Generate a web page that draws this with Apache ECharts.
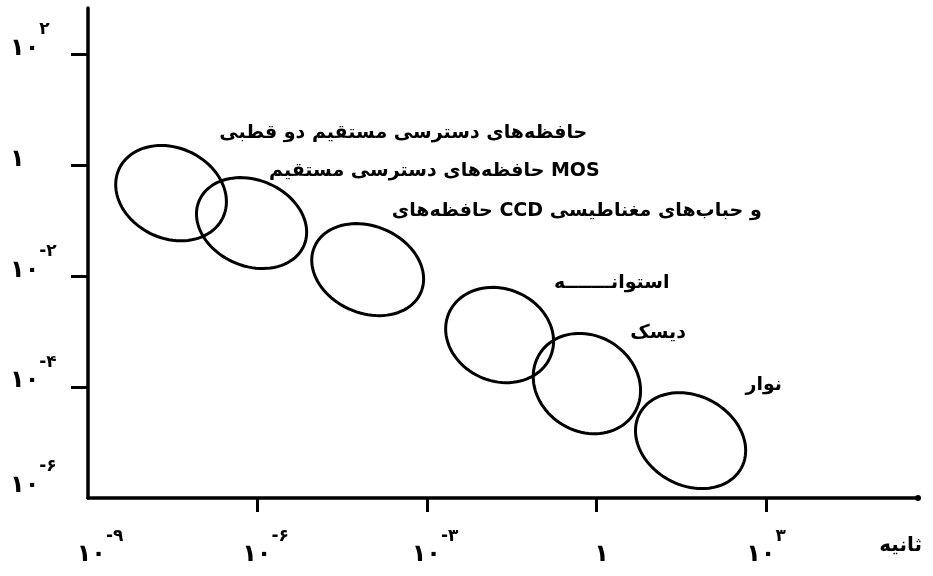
<!DOCTYPE html>
<html><head><meta charset="utf-8">
<script src="https://cdn.jsdelivr.net/npm/echarts@6/dist/echarts.min.js"></script>
<style>html,body{margin:0;padding:0;background:#fff}#c{width:933px;height:576px}</style>
</head><body><div id="c"></div>
<script>
// Memory technology regions (log10 of access time in seconds, log10 of cost)
const regionNames = ['bipolar', 'mos', 'ccdBubble', 'drum', 'disk', 'tape'];
const accessTimeMinExp = [-8.51, -7.08, -5.04, -2.67, -1.12, 0.69];
const accessTimeMaxExp = [-6.55, -5.13, -3.06, -0.76, 0.78, 2.64];
const costMinExp = [-1.36, -1.86, -2.71, -3.92, -4.84, -5.83];
const costMaxExp = [0.36, -0.22, -1.05, -2.20, -3.03, -4.10];
const regionTiltDeg = [25, 23, 23, 23, 32, 28];

// Annotation texts and their anchors (log10 units)
const labelTexts = ['حافظه‌های دسترسی مستقیم دو قطبی', 'حافظه‌های دسترسی مستقیم MOS', 'حافظه‌های CCD و حباب‌های مغناطیسی', 'استوانـــــــه', 'دیسک', 'نوار'];
const labelXExp = [-3.42, -2.87, -0.35, 0.27, 1.09, 2.96];
const labelYExp = [0.59, -0.11, -0.83, -2.13, -3.02, -3.97];

// Axes (log10 exponents)
const xLabelExps = [-9, -6, -3, 0, 3];
const xTickExps = [-6, -3, 0, 3];
const yLabelExps = [2, 0, -2, -4, -6];
const yTickExps = [2, 0, -2, -4];
const xAxisName = 'ثانیه';

const fa = s => String(s).replace(/\d/g, d => '۰۱۲۳۴۵۶۷۸۹'[d]);
const FONT = '"DejaVu Sans", sans-serif';

function xFmt(v) {
  if (v === 0) return '{b|' + fa(1) + '}{s| }';
  const key = v === -9 ? 'c' : (v === 3 ? 'e' : 'b');
  return '{' + key + '|' + fa(10) + '}{s|' + fa(v) + '}';
}
function yFmt(v) {
  if (v === 0) return '{b|' + fa(1) + '}';
  if (v === -6) return '{bl|' + fa(10) + '}{sl|' + fa(v) + '}';
  return '{b|' + fa(10) + '}{s|' + fa(v) + '}';
}

const ellipseData = regionNames.map((n, i) => [accessTimeMinExp[i], accessTimeMaxExp[i], costMinExp[i], costMaxExp[i], regionTiltDeg[i]]);
const labelData = labelTexts.map((t, i) => [labelXExp[i], labelYExp[i], t]);

const base = {fontSize: 24, fontWeight: 'bold', fontFamily: FONT, color: '#000'};
const sup = {fontSize: 17, fontWeight: 'bold', fontFamily: FONT, color: '#000'};

const chart = echarts.init(document.getElementById('c'), null, {renderer: 'canvas'});
chart.setOption({
  animation: false,
  backgroundColor: '#fff',
  grid: {left: 88, right: 15, top: 8, bottom: 78, containLabel: false, outerBoundsMode: 'none'},
  xAxis: {
    type: 'value', min: -9, max: 5.69, interval: 3,
    splitLine: {show: false},
    axisLine: {onZero: false, lineStyle: {color: '#000', width: 3.5}, symbol: ['none', 'circle'], symbolSize: [6, 6]},
    axisTick: {show: true, inside: false, length: 14, customValues: xTickExps, lineStyle: {color: '#000', width: 3}},
    axisLabel: {
      customValues: xLabelExps, formatter: xFmt, margin: 57, verticalAlign: 'middle', align: 'center',
      color: '#000', fontFamily: FONT, fontWeight: 'bold',
      rich: {
        b: Object.assign({}, base, {padding: [0, 0, 0, 16]}),
        c: Object.assign({}, base, {padding: [0, 0, 0, 24]}),
        e: Object.assign({}, base),
        s: Object.assign({}, sup, {padding: [0, 0, 36, 0]})
      }
    }
  },
  yAxis: {
    type: 'value', min: -6, max: 2.84, interval: 2,
    splitLine: {show: false},
    axisLine: {onZero: false, lineStyle: {color: '#000', width: 3.5}},
    axisTick: {show: true, inside: false, length: 17, customValues: yTickExps, lineStyle: {color: '#000', width: 3}},
    axisLabel: {
      customValues: yLabelExps, formatter: yFmt, margin: 78, align: 'left', verticalAlign: 'middle',
      padding: [0, 0, 12, 0],
      color: '#000', fontFamily: FONT, fontWeight: 'bold',
      rich: {
        b: Object.assign({}, base),
        s: Object.assign({}, sup, {padding: [0, 0, 38, 0]}),
        bl: Object.assign({}, base, {padding: [0, 0, 12, 0]}),
        sl: Object.assign({}, sup, {padding: [0, 0, 50, 0]})
      }
    }
  },
  graphic: [{
    type: 'text', right: 11, top: 536,
    style: {text: xAxisName, font: 'bold 20px ' + FONT, fill: '#000'}
  }],
  series: [{
    type: 'custom',
    data: ellipseData,
    encode: {x: [0, 1], y: [2, 3]},
    renderItem: function (params, api) {
      const p1 = api.coord([api.value(0), api.value(3)]);
      const p2 = api.coord([api.value(1), api.value(2)]);
      const cx = (p1[0] + p2[0]) / 2, cy = (p1[1] + p2[1]) / 2;
      const w = Math.abs(p2[0] - p1[0]) / 2, h = Math.abs(p2[1] - p1[1]) / 2;
      const th = api.value(4) * Math.PI / 180;
      const d = (w * w - h * h) / Math.cos(2 * th);
      const a = Math.sqrt(Math.max(1, (w * w + h * h + d) / 2));
      const b = Math.sqrt(Math.max(1, (w * w + h * h - d) / 2));
      const pts = [];
      for (let k = 0; k < 90; k++) {
        const t = k / 90 * 2 * Math.PI;
        const ex = a * Math.cos(t), ey = b * Math.sin(t);
        pts.push([cx + ex * Math.cos(th) - ey * Math.sin(th), cy + ex * Math.sin(th) + ey * Math.cos(th)]);
      }
      return {type: 'polygon', shape: {points: pts}, style: {fill: 'none', stroke: '#000', lineWidth: 3}};
    }
  }, {
    type: 'custom',
    data: labelData,
    encode: {x: 0, y: 1},
    renderItem: function (params, api) {
      const p = api.coord([api.value(0), api.value(1)]);
      return {type: 'text', x: p[0], y: p[1],
        style: {text: labelData[params.dataIndex][2], font: 'bold 19px ' + FONT, fill: '#000', align: 'center', verticalAlign: 'middle'}};
    }
  }]
});
</script>
</body></html>
